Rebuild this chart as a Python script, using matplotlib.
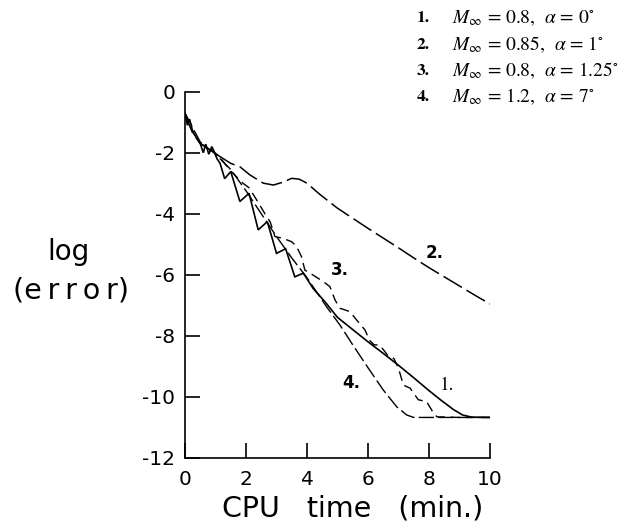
import matplotlib
matplotlib.use("Agg")
import matplotlib.pyplot as plt

plt.rcParams['font.family'] = ['DejaVu Sans']
plt.rcParams['axes.unicode_minus'] = False
plt.rcParams['mathtext.fontset'] = 'stix'

# ---- data ----
x1 = [0, 0.08, 0.15, 0.25, 0.4, 0.5, 0.6, 0.68, 0.78, 0.88, 0.95, 1.05, 1.15, 1.3, 1.5, 1.8, 2.1,
      2.4, 2.7, 3.0, 3.3, 3.6, 3.88, 4.2, 4.6, 5.0, 5.5, 6.0, 6.5, 7.0, 7.5, 8.0, 8.4, 8.8, 9.1, 9.4, 10.0]
y1 = [-0.7, -1.1, -0.9, -1.3, -1.55, -1.7, -2.0, -1.72, -2.05, -1.8, -1.95, -2.2, -2.35, -2.85, -2.62,
      -3.6, -3.33, -4.53, -4.26, -5.3, -5.15, -6.07, -5.95, -6.45, -6.9, -7.4, -7.8, -8.2, -8.58, -8.97,
      -9.38, -9.8, -10.12, -10.42, -10.6, -10.67, -10.68]

x2 = [0, 0.1, 0.25, 0.5, 0.8, 1.15, 1.5, 1.8, 2.13, 2.57, 2.9, 3.2, 3.5, 3.75, 4.0, 4.4, 5.0, 5.5,
      6.0, 6.5, 7.0, 7.5, 8.0, 8.5, 9.0, 9.5, 10.0]
y2 = [-0.7, -1.0, -1.35, -1.7, -1.9, -2.13, -2.35, -2.46, -2.73, -3.0, -3.06, -2.97, -2.84, -2.87,
      -3.0, -3.35, -3.82, -4.15, -4.48, -4.8, -5.12, -5.45, -5.77, -6.07, -6.37, -6.67, -6.96]

x3 = [0, 0.1, 0.3, 0.5, 0.8, 1.1, 1.5, 1.9, 2.1, 2.35, 2.68, 2.79, 2.95, 3.22, 3.5, 3.66, 3.82, 3.93,
      4.1, 4.54, 4.75, 4.92, 5.08, 5.41, 5.63, 5.9, 6.05, 6.2, 6.35, 6.5, 6.65, 6.85, 7.0, 7.16, 7.38,
      7.65, 7.92, 8.15, 8.26, 9.0, 10.0]
y3 = [-0.7, -1.0, -1.4, -1.7, -1.85, -2.1, -2.6, -3.0, -3.15, -3.55, -4.1, -4.26, -4.75, -4.81, -4.92,
      -5.08, -5.41, -5.85, -5.95, -6.23, -6.39, -6.83, -7.1, -7.21, -7.49, -7.81, -8.15, -8.3, -8.3,
      -8.45, -8.65, -8.75, -9.07, -9.62, -9.72, -10.1, -10.16, -10.54, -10.66, -10.68, -10.68]

x4 = [0, 0.5, 1.0, 1.5, 2.0, 2.5, 3.0, 3.5, 4.0, 4.64, 5.08, 5.5, 6.0, 6.5, 6.94, 7.27, 7.5, 10.0]
y4 = [-0.7, -1.65, -2.05, -2.55, -3.25, -4.0, -4.75, -5.45, -6.1, -7.05, -7.65, -8.3, -9.05, -9.78,
      -10.33, -10.6, -10.68, -10.68]

xticks = [0, 2, 4, 6, 8, 10]
yticks = [0, -2, -4, -6, -8, -10, -12]

legend_nums = ["1.", "2.", "3.", "4."]
legend_texts = [r"$M_\infty$ = 0.8,  $\alpha$ = 0$^{\circ}$",
                r"$M_\infty$ = 0.85,  $\alpha$ = 1$^{\circ}$",
                r"$M_\infty$ = 0.8,  $\alpha$ = 1.25$^{\circ}$",
                r"$M_\infty$ = 1.2,  $\alpha$ = 7$^{\circ}$"]

W, H = 634, 527
fig = plt.figure(figsize=(W / 100, H / 100), dpi=100)
ax = fig.add_axes([185 / W, 69.3 / H, 305 / W, 366 / H])

ax.plot(x1, y1, color='black', lw=1.2, solid_joinstyle='miter')
ax.plot(x2, y2, color='black', lw=1.1, linestyle=(0, (14, 3.5)))
ax.plot(x3, y3, color='black', lw=1.0, linestyle=(0, (7, 4)))
ax.plot(x4, y4, color='black', lw=1.0, linestyle=(0, (11, 3)))

ax.set_xlim(0, 10)
ax.set_ylim(-12, 0)
ax.set_xticks(xticks)
ax.set_yticks(yticks)
ax.set_xticklabels([str(v) for v in xticks])
ax.set_yticklabels([str(v) for v in yticks])
ax.spines['top'].set_visible(False)
ax.spines['right'].set_visible(False)
for s in ('left', 'bottom'):
    ax.spines[s].set_linewidth(1.2)
ax.tick_params(direction='in', length=11, width=1.2, labelsize=14.5)
ax.tick_params(axis='x', pad=9)
ax.tick_params(axis='y', pad=7)

# curve labels
ax.text(8.2, -5.29, "2.", fontsize=12, fontweight='bold', ha='center', va='center')
ax.text(5.08, -5.85, "3.", fontsize=12, fontweight='bold', ha='center', va='center')
ax.text(5.44, -9.55, "4.", fontsize=12, fontweight='bold', ha='center', va='center')
ax.text(8.59, -9.62, "1.", fontsize=14, family='STIXGeneral', ha='center', va='center')

# axis labels
fig.text(68 / W, 1 - 252 / H, "log", fontsize=20, ha='center', va='center')
fig.text(71 / W, 1 - 290 / H, "(e\u2009r\u2009r\u2009o\u2009r)", fontsize=20.5, ha='center', va='center')
fig.text(353 / W, 1 - 508 / H, "CPU   time   (min.)", fontsize=20.5, ha='center', va='center')

# legend text block
ys = [18, 45, 71, 97]
for num, txt, yy in zip(legend_nums, legend_texts, ys):
    fig.text(417 / W, 1 - yy / H, num, fontsize=12.5, family='STIXGeneral',
             fontweight='bold', ha='left', va='center')
    fig.text(452 / W, 1 - yy / H, txt, fontsize=14, family='STIXGeneral',
             ha='left', va='center')

fig.savefig("out.png", dpi=100)
